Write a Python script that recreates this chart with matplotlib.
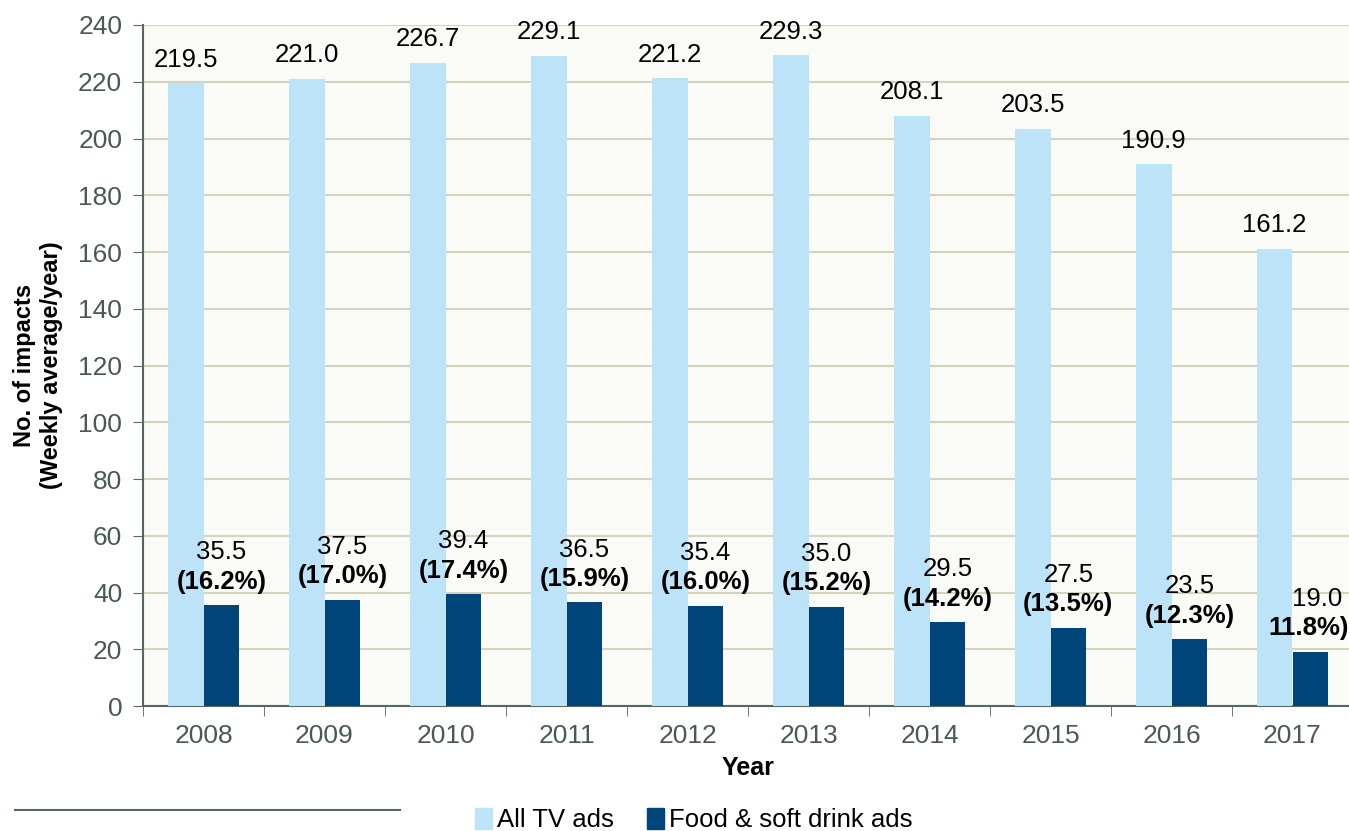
import numpy as np
import matplotlib.pyplot as plt
from matplotlib.lines import Line2D
from matplotlib.patches import Patch

plt.rcParams['font.family'] = ['Liberation Sans', 'DejaVu Sans']

years = ["2008", "2009", "2010", "2011", "2012", "2013", "2014", "2015", "2016", "2017"]
all_tv = [219.5, 221.0, 226.7, 229.1, 221.2, 229.3, 208.1, 203.5, 190.9, 161.2]
food = [35.5, 37.5, 39.4, 36.5, 35.4, 35.0, 29.5, 27.5, 23.5, 19.0]
share = ["(16.2%)", "(17.0%)", "(17.4%)", "(15.9%)", "(16.0%)", "(15.2%)",
         "(14.2%)", "(13.5%)", "(12.3%)", "11.8%)"]

light = "#BDE3F8"
dark = "#00457A"
axis_col = "#56665E"

fig = plt.figure(figsize=(13.49, 8.31), dpi=100)
ax = fig.add_axes([143/1349, 1-706/831, 1210/1349, 681/831])
ax.set_facecolor("#FAFAF7")

x = np.arange(len(years))
w = 0.295
ax.bar(x - w/2, all_tv, w, color=light, zorder=3)
ax.bar(x + w/2, food, w, color=dark, zorder=3)

for i in range(len(years)):
    ax.annotate(f"{all_tv[i]:.1f}", (x[i] - w/2, all_tv[i]), xytext=(0, 12),
                textcoords="offset points", ha="center", va="baseline", fontsize=18.5)
    last = i == len(years) - 1
    ax.annotate(f"{food[i]:.1f}", (x[i] + w/2, food[i]), xytext=(5 if last else 0, 33),
                textcoords="offset points", ha="center", va="baseline", fontsize=18.5)
    ax.annotate(share[i], (x[i] + w/2, food[i]), xytext=(-1 if last else 0, 12),
                textcoords="offset points", ha="center", va="baseline",
                fontsize=18.5, fontweight="bold")

ax.set_xlim(-0.5, len(years) - 0.5)
ax.set_ylim(0, 240)
ax.set_yticks(range(0, 241, 20))
ax.set_xticks(x)
ax.set_xticklabels(years)
ax.set_xticks(np.arange(-0.5, len(years)), minor=True)
ax.tick_params(axis="x", which="major", length=0, pad=13, labelsize=19, labelcolor="#4A5A52")
ax.tick_params(axis="x", which="minor", length=7, color=axis_col, direction="out")
ax.tick_params(axis="y", length=7, color=axis_col, labelsize=19, labelcolor="#4A5A52", pad=8)
ax.grid(axis="y", color="#D5D2BE", linewidth=1.5, zorder=0)
for s in ["top", "right"]:
    ax.spines[s].set_visible(False)
for s in ["left", "bottom"]:
    ax.spines[s].set_color(axis_col)
    ax.spines[s].set_linewidth(1.5)

ax.set_ylabel("No. of impacts\n(Weekly average/year)", fontsize=17, fontweight="bold", labelpad=11)
ax.set_xlabel("Year", fontsize=18, fontweight="bold", labelpad=6)

handles = [Patch(color=light, label="All TV ads"), Patch(color=dark, label="Food & soft drink ads")]
fig.legend(handles=handles, loc="center", bbox_to_anchor=(694/1349, 1-820/831), ncol=2,
           frameon=False, fontsize=18.5, handlelength=0.65, handleheight=0.9,
           handletextpad=0.2, columnspacing=1.3)

fig.add_artist(Line2D([15/1349, 400/1349], [1-810/831, 1-810/831], color=axis_col, linewidth=1.5))

fig.savefig("out.png", dpi=100)
